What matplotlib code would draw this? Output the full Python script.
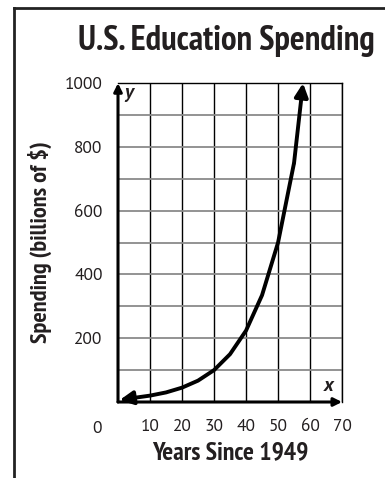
import matplotlib
matplotlib.use("Agg")
import matplotlib.pyplot as plt
from matplotlib.lines import Line2D

# data
years = [0.5, 5, 10, 15, 20, 25, 30, 35, 40, 45, 50, 55, 57.8]
spending = [6, 13, 20, 30, 45, 67, 100, 150, 224, 335, 500, 750, 1000]

x_ticks = [10, 20, 30, 40, 50, 60, 70]
y_ticks = [200, 400, 600, 800, 1000]

plt.rcParams['font.family'] = ['PT Sans', 'DejaVu Sans']
narrow = ['PT Sans Narrow', 'DejaVu Sans']
ink = '#231f20'

fig = plt.figure(figsize=(3.85, 4.78), dpi=100)
ax = fig.add_axes([0.3065, 0.159, 0.582, 0.667])

ax.set_xlim(0, 70)
ax.set_ylim(0, 1000)

# grid: vertical black, horizontal gray
for xv in range(10, 71, 10):
    ax.axvline(xv, color='black', lw=1.0, zorder=1)
for yv in range(100, 1001, 100):
    ax.axhline(yv, color='#8a8a8a', lw=1.3, zorder=1)

for s in ['left', 'bottom']:
    ax.spines[s].set_visible(False)
for s in ['top', 'right']:
    ax.spines[s].set_linewidth(1.0)

# axes with arrows
ax.annotate('', xy=(0, 1000), xytext=(0, 0),
            arrowprops=dict(arrowstyle='-|>', color='black', lw=2.2,
                            mutation_scale=12, shrinkA=0, shrinkB=0), annotation_clip=False)
ax.annotate('', xy=(70, 0), xytext=(0, 0),
            arrowprops=dict(arrowstyle='-|>', color='black', lw=2.2,
                            mutation_scale=12, shrinkA=0, shrinkB=0), annotation_clip=False)

# curve
ax.plot(years[1:-1], spending[1:-1], color='black', lw=2.8, zorder=3,
        solid_capstyle='butt')
ax.annotate('', xy=(years[0], spending[0]), xytext=(years[1], spending[1]),
            arrowprops=dict(arrowstyle='-|>', color='black', lw=2.8,
                            mutation_scale=20, shrinkA=0, shrinkB=0), annotation_clip=False)
ax.annotate('', xy=(years[-1], spending[-1]), xytext=(years[-2], spending[-2]),
            arrowprops=dict(arrowstyle='-|>', color='black', lw=2.8,
                            mutation_scale=20, shrinkA=0, shrinkB=0), annotation_clip=False)

ax.set_xticks(x_ticks)
ax.set_yticks(y_ticks)
ax.tick_params(length=0, labelsize=12.5, colors=ink)
ax.tick_params(axis='y', pad=11)
ax.tick_params(axis='x', pad=12)
ax.text(-6.6, -60, '0', ha='center', va='top', fontsize=12.5, color=ink)

ax.text(3.4, 968, 'y', fontsize=14, fontstyle='italic', fontweight='bold',
        ha='center', va='center', color=ink)
ax.text(65.9, 50, 'x', fontsize=14, fontstyle='italic', fontweight='bold',
        ha='center', va='center', color=ink)

fig.text(0.587, 0.914, 'U.S. Education Spending', ha='center', va='center',
         fontsize=25, fontweight='bold', color=ink, family=narrow)
fig.text(0.597, 0.052, 'Years Since 1949', ha='center', va='center',
         fontsize=18.5, fontweight='bold', color=ink, family=narrow)
fig.text(0.104, 0.493, 'Spending (billions of $)', ha='center', va='center',
         rotation=90, fontsize=17.5, fontweight='bold', color=ink, family=narrow)

# frame lines (left and top)
fig.add_artist(Line2D([14/385, 14/385], [0, 1 - 8/478], color='#222222', lw=2))
fig.add_artist(Line2D([14/385, 1], [1 - 8/478, 1 - 8/478], color='#222222', lw=2))

fig.savefig('out.png', dpi=100)
